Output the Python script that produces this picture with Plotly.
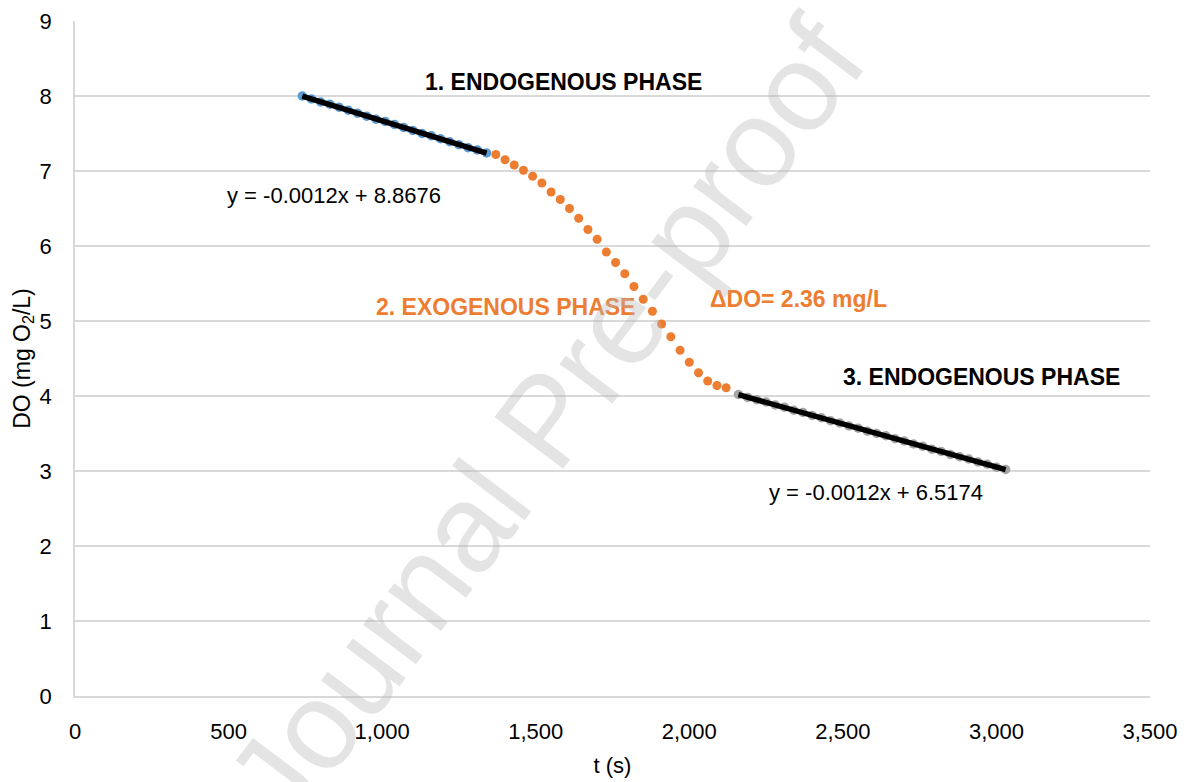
import numpy as np
import plotly.graph_objects as go

# ---- data ----
t_phase1 = [740, 770, 800, 830, 860, 890, 920, 950, 980, 1010, 1040, 1070, 1100,
            1130, 1160, 1190, 1220, 1250, 1280, 1310, 1340]
do_phase1 = [8.00, 7.96, 7.92, 7.89, 7.85, 7.81, 7.77, 7.73, 7.69, 7.66, 7.62, 7.58,
             7.54, 7.50, 7.47, 7.43, 7.39, 7.35, 7.31, 7.28, 7.24]

t_phase2 = [1370, 1400, 1430, 1460, 1490, 1520, 1550, 1580, 1610, 1640, 1670, 1700,
            1730, 1760, 1790, 1820, 1850, 1880, 1910, 1940, 1970, 2000, 2030, 2060,
            2090, 2120]
do_phase2 = [7.22, 7.15, 7.08, 7.01, 6.93, 6.84, 6.72, 6.62, 6.50, 6.37, 6.22, 6.09,
             5.92, 5.78, 5.63, 5.46, 5.29, 5.13, 4.96, 4.79, 4.61, 4.45, 4.31, 4.20,
             4.14, 4.11]

t_phase3 = [2160, 2190, 2220, 2250, 2280, 2310, 2340, 2370, 2400, 2430, 2460, 2490,
            2520, 2550, 2580, 2610, 2640, 2670, 2700, 2730, 2760, 2790, 2820, 2850,
            2880, 2910, 2940, 2970, 3000, 3030]
do_phase3 = [4.02, 3.98, 3.95, 3.92, 3.88, 3.85, 3.81, 3.78, 3.74, 3.71, 3.67, 3.64,
             3.60, 3.57, 3.53, 3.50, 3.47, 3.43, 3.40, 3.36, 3.33, 3.29, 3.26, 3.22,
             3.19, 3.16, 3.12, 3.09, 3.05, 3.02]

eq1_text = "y = -0.0012x + 8.8676"
eq3_text = "y = -0.0012x + 6.5174"
x_ticks = [0, 500, 1000, 1500, 2000, 2500, 3000, 3500]
y_ticks = [0, 1, 2, 3, 4, 5, 6, 7, 8, 9]

FONT = "Liberation Sans, Arial, sans-serif"
ORANGE = "#ED7D31"

fig = go.Figure()

fig.add_trace(go.Scatter(x=t_phase1, y=do_phase1, mode="markers",
                         marker=dict(color="#5B9BD5", size=9.5), showlegend=False))
fig.add_trace(go.Scatter(x=t_phase2, y=do_phase2, mode="markers",
                         marker=dict(color=ORANGE, size=9), showlegend=False))
fig.add_trace(go.Scatter(x=t_phase3, y=do_phase3, mode="markers",
                         marker=dict(color="#A5A5A5", size=9.5), showlegend=False))

# linear trendlines fitted on the endogenous phases
for tx, ty in [(t_phase1, do_phase1), (t_phase3, do_phase3)]:
    k, b = np.polyfit(tx, ty, 1)
    xs = np.array([min(tx), max(tx)])
    fig.add_trace(go.Scatter(x=xs, y=k * xs + b, mode="lines",
                             line=dict(color="black", width=5.5), showlegend=False))

ann = []
def txt(x, y, s, size=22, color="black", bold=False):
    ann.append(dict(x=x, y=y, xref="x", yref="y", text=f"<b>{s}</b>" if bold else s,
                    showarrow=False, xanchor="center", yanchor="middle",
                    font=dict(family=FONT, size=size, color=color)))

txt(1589, 8.19, "1. ENDOGENOUS PHASE", size=23, bold=True)
txt(843, 6.67, eq1_text, size=22)
txt(1400, 5.19, "2. EXOGENOUS PHASE", size=23, color=ORANGE, bold=True)
txt(2357, 5.29, "ΔDO= 2.36 mg/L", size=23, color=ORANGE, bold=True)
txt(2953, 4.25, "3. ENDOGENOUS PHASE", size=23, bold=True)
txt(2608, 2.72, eq3_text, size=22)

# watermark
ann.append(dict(x=(545 - 75) / 1075, y=(696 - 420) / 675, xref="paper", yref="paper",
                text="Journal Pre-proof", showarrow=False, textangle=-53,
                xanchor="center", yanchor="middle",
                font=dict(family=FONT, size=125, color="rgba(185,185,185,0.38)")))

fig.update_layout(
    width=1190, height=782,
    margin=dict(l=75, r=40, t=21, b=86),
    paper_bgcolor="white", plot_bgcolor="white",
    font=dict(family=FONT, size=22, color="black"),
    annotations=ann,
    showlegend=False,
)
fig.update_xaxes(range=[0, 3500], tickvals=x_ticks, tickformat=",", showgrid=False,
                 showline=True, linecolor="#d9d9d9", linewidth=1.5, zeroline=False,
                 ticks="", ticklabelstandoff=15, automargin=False,
                 title=dict(text="t (s)", standoff=14, font=dict(size=22)),
                 tickfont=dict(size=22))
fig.update_yaxes(range=[0, 9], tickvals=y_ticks, showgrid=True, gridcolor="#d9d9d9",
                 gridwidth=1.5, showline=True, linecolor="#d9d9d9", linewidth=1.5,
                 zeroline=False, ticks="", ticklabelstandoff=17, automargin=False,
                 title=dict(text="DO (mg O<sub>2</sub>/L)", standoff=3, font=dict(size=23)),
                 tickfont=dict(size=22))

fig.write_html("out.html")
